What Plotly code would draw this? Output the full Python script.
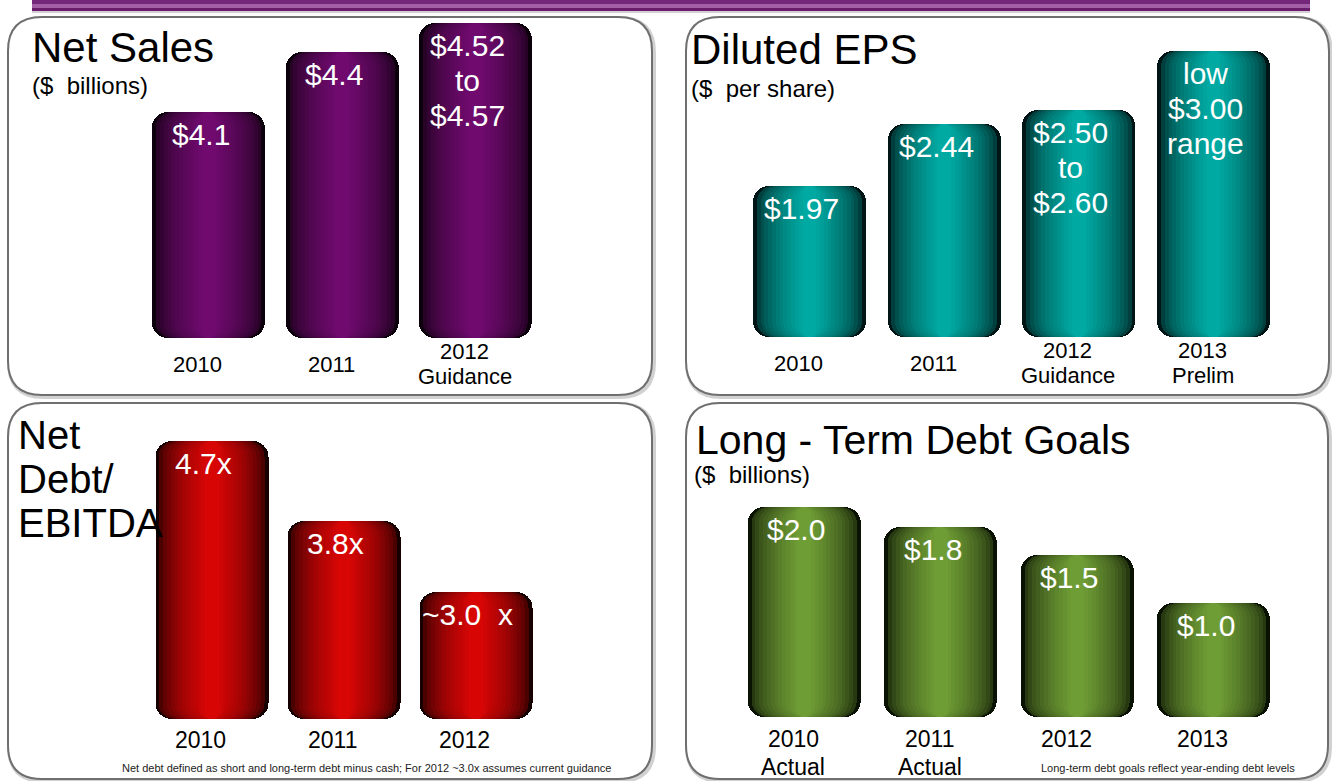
import plotly.graph_objects as go

W, H = 1332, 781
FONT = "Liberation Sans, Arial, sans-serif"

# ---------------- data ----------------
sales_cats = ["2010", "2011", "2012<br>Guidance"]
sales_vals = [4.1, 4.4, 4.545]
sales_labels = ["$4.1", "$4.4", "$4.52<br>to<br>$4.57"]

eps_cats = ["2010", "2011", "2012<br>Guidance", "2013<br>Prelim"]
eps_vals = [1.97, 2.44, 2.55, 3.0]
eps_labels = ["$1.97", "$2.44", "$2.50<br>to<br>$2.60", "low<br>$3.00<br>range"]

lev_cats = ["2010", "2011", "2012"]
lev_vals = [4.7, 3.8, 3.0]
lev_labels = ["4.7x", "3.8x", "~3.0  x"]

debt_cats = ["2010<br>Actual", "2011<br>Actual", "2012", "2013"]
debt_vals = [2.0, 1.8, 1.5, 1.0]
debt_labels = ["$2.0", "$1.8", "$1.5", "$1.0"]

lev_note = "Net debt defined as short and long-term debt minus cash; For 2012 ~3.0x assumes current guidance"
debt_note = "Long-term debt goals reflect year-ending debt levels"


def mix(c1, c2, t):
    a = [int(c1[i:i + 2], 16) for i in (1, 3, 5)]
    b = [int(c2[i:i + 2], 16) for i in (1, 3, 5)]
    return "#%02x%02x%02x" % tuple(round(a[j] + (b[j] - a[j]) * t) for j in range(3))


def px(x):
    return x / W


def py(y):
    return 1 - y / H


panels = [
    dict(cats=sales_cats, vals=sales_vals, labels=sales_labels,
         base=2.97, scale=200.0, x0=141.75, x1=542.25, ybot=338, ytop=18, barw=0.846,
         center="#700a6f", edge="#0c000c", cat_y=364, cat_mode="middle", cat_gap=25, cat_size=22),
    dict(cats=eps_cats, vals=eps_vals, labels=eps_labels,
         base=0.814, scale=131.0, x0=742, x1=1281, ybot=337, ytop=18, barw=0.839,
         center="#00aaa3", edge="#001616", cat_y=363, cat_mode="middle", cat_gap=25, cat_size=22),
    dict(cats=lev_cats, vals=lev_vals, labels=lev_labels,
         base=1.571, scale=88.7, x0=145.5, x1=541.5, ybot=719, ytop=405, barw=0.856,
         center="#d80505", edge="#160000", cat_y=740, cat_mode="top", cat_gap=28, cat_size=23),
    dict(cats=debt_cats, vals=debt_vals, labels=debt_labels,
         base=-0.183, scale=96.0, x0=735.75, x1=1281.75, ybot=717, ytop=405, barw=0.828,
         center="#6f9d35", edge="#0a1203", cat_y=739, cat_mode="top", cat_gap=28, cat_size=23),
]

fig = go.Figure()
layout_axes = {}
annotations = []
NL = 14
RADIUS = 16

for i, p in enumerate(panels, start=1):
    xa = "x" if i == 1 else f"x{i}"
    ya = "y" if i == 1 else f"y{i}"
    n = len(p["cats"])
    H_px = p["ybot"] - p["ytop"]
    yr = [p["base"], p["base"] + H_px / p["scale"]]
    layout_axes[f"xaxis{'' if i == 1 else i}"] = dict(
        domain=[px(p["x0"]), px(p["x1"])], type="category",
        categoryorder="array", categoryarray=p["cats"],
        range=[-0.5, n - 0.5], visible=False, anchor=ya)
    layout_axes[f"yaxis{'' if i == 1 else i}"] = dict(
        domain=[py(p["ybot"]), py(p["ytop"])], range=yr, visible=False, anchor=xa)

    for k in range(NL):
        wf = 1 - 0.88 * k / (NL - 1)
        t = (k / (NL - 1)) ** 0.5
        col = mix(p["edge"], p["center"], t)
        fig.add_trace(go.Bar(
            x=p["cats"], y=[v - p["base"] for v in p["vals"]], base=[p["base"]] * n,
            width=[p["barw"] * wf] * n,
            marker=dict(color=col, line=dict(width=0), cornerradius=RADIUS),
            xaxis=xa, yaxis=ya, hoverinfo="skip", showlegend=False))

    # value labels inside bars
    for idx, (v, lab) in enumerate(zip(p["vals"], p["labels"])):
        for j, line in enumerate(lab.split("<br>")):
            annotations.append(dict(
                x=idx, y=v, xref=xa, yref=ya, text=line, showarrow=False,
                xanchor="center", yanchor="top", xshift=-8, yshift=-(5 + 35 * j),
                borderpad=0, font=dict(family=FONT, size=30, color="white")))
    # category labels
    for idx, c in enumerate(p["cats"]):
        lines = c.split("<br>")
        m = len(lines)
        for j, line in enumerate(lines):
            if p["cat_mode"] == "middle":
                yc = p["cat_y"] + (j - (m - 1) / 2) * p["cat_gap"]
            else:
                yc = p["cat_y"] + j * p["cat_gap"]
            annotations.append(dict(
                x=idx, y=py(yc), xref=xa, yref="paper", text=line, showarrow=False,
                xanchor="center", yanchor="middle", xshift=-11, borderpad=0,
                font=dict(family=FONT, size=p["cat_size"], color="black")))


def title(x, cap_top, text, size, color="black"):
    top = cap_top - 1 - 0.19 * size
    return dict(x=px(x - 3), y=py(top), xref="paper", yref="paper", text=text,
                showarrow=False, xanchor="left", yanchor="top",
                font=dict(family=FONT, size=size, color=color))


annotations += [
    title(33, 31, "Net Sales", 42),
    title(33, 76, "($  billions)", 24),
    title(692, 33, "Diluted EPS", 42),
    title(692, 79, "($  per share)", 24),
    title(19, 420, "Net", 40),
    title(19, 464, "Debt/", 40),
    title(19, 508, "EBITDA", 40),
    title(697, 424, "Long - Term Debt Goals", 41),
    title(695, 465, "($  billions)", 24),
]
annotations.append(dict(x=px(120), y=py(768), xref="paper", yref="paper", text=lev_note,
                        showarrow=False, xanchor="left", yanchor="middle",
                        font=dict(family=FONT, size=11, color="#222222")))
annotations.append(dict(x=px(1039), y=py(768), xref="paper", yref="paper", text=debt_note,
                        showarrow=False, xanchor="left", yanchor="middle",
                        font=dict(family=FONT, size=11, color="#222222")))


def rrect(x0, y0, x1, y1, r):
    pts = [
        ("M", [(x0 + r, y0)]), ("L", [(x1 - r, y0)]), ("Q", [(x1, y0), (x1, y0 + r)]),
        ("L", [(x1, y1 - r)]), ("Q", [(x1, y1), (x1 - r, y1)]),
        ("L", [(x0 + r, y1)]), ("Q", [(x0, y1), (x0, y1 - r)]),
        ("L", [(x0, y0 + r)]), ("Q", [(x0, y0), (x0 + r, y0)]),
    ]
    s = ""
    for cmd, ps in pts:
        s += cmd + " " + " ".join(f"{px(a):.5f},{py(b):.5f}" for a, b in ps) + " "
    return s + "Z"


shapes = []
# top purple band
band = [(0, 4, "#74277a"), (4, 8, "#a35fa5"), (8, 11, "#6a1c6c"), (11, 13, "#d4cfd4")]
for a, b, col in band:
    shapes.append(dict(type="rect", xref="paper", yref="paper", x0=px(32), x1=px(1310),
                       y0=py(b), y1=py(a), fillcolor=col, line=dict(width=0), layer="below"))

boxes = [(8, 17, 652, 395), (686, 17, 1329, 395), (8, 403, 652, 779), (686, 403, 1328, 779)]
for x0, y0, x1, y1 in boxes:
    shapes.append(dict(type="path", xref="paper", yref="paper",
                       path=rrect(x0 + 1.5, y0 + 1.5, x1 + 1.5, y1 + 1.5, 34),
                       line=dict(color="rgba(0,0,0,0.18)", width=5), fillcolor="rgba(0,0,0,0)",
                       layer="below"))
    shapes.append(dict(type="path", xref="paper", yref="paper", path=rrect(x0, y0, x1, y1, 34),
                       line=dict(color="#6f6f6f", width=2), fillcolor="white", layer="below"))

fig.update_layout(
    width=W, height=H, autosize=False,
    margin=dict(l=0, r=0, t=0, b=0),
    paper_bgcolor="white", plot_bgcolor="rgba(0,0,0,0)",
    barmode="overlay", bargap=0,
    shapes=shapes, annotations=annotations,
    font=dict(family=FONT),
    **layout_axes,
)

fig.write_html("out.html")
